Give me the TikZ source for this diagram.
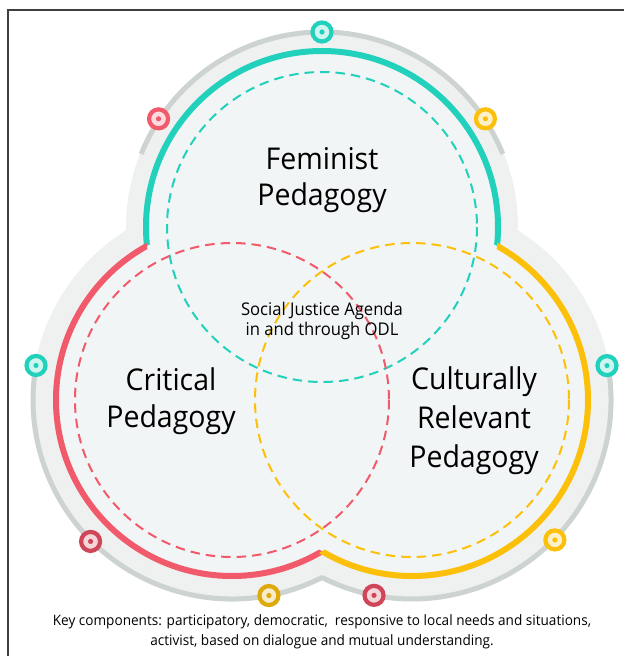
\documentclass[tikz,border=0pt]{standalone}
\usepackage{fontspec}
\setmainfont{Open Sans}[FakeStretch=0.95]
\definecolor{femteal}{HTML}{22D1BC}
\definecolor{critred}{HTML}{F05A6A}
\definecolor{cultyellow}{HTML}{FCC00A}
\definecolor{darkred}{HTML}{CF4658}
\definecolor{darkyellow}{HTML}{DDA90C}
\definecolor{ringgrey}{HTML}{CDD3D1}
\definecolor{halogrey}{HTML}{EFF0F0}
\definecolor{innerfill}{HTML}{F2F5F5}
\definecolor{framegrey}{HTML}{3F3F3F}
\tikzset{
  marker/.style={circle, draw=#1, line width=4.2pt, fill=#1!22!white,
    minimum size=19pt, inner sep=0pt,
    path picture={\fill[#1] (path picture bounding box.center) circle (2.6pt);}},
  ring/.style={line width=6pt},
  guide/.style={line width=2pt, dash pattern=on 9.5pt off 6pt},
  biglabel/.style={align=center, font=\fontsize{30}{37}\selectfont},
}
\begin{document}
\begin{tikzpicture}[x=1pt, y=-1pt]
      \useasboundingbox (0,0) rectangle (624,656);
      \draw[framegrey, line width=1.4pt] (8,656) -- (8,10) -- (624,10);
      \coordinate (fem) at (322,227);
      \coordinate (crit) at (232,400);
      \coordinate (cult) at (412,400);
      % halo and grey outline
      \fill[halogrey] (fem) circle (196) (crit) circle (200) (cult) circle (200);
      \draw[ringgrey, line width=5pt]
        ([shift={(-158:195)}]fem) arc[start angle=-158, end angle=-22, radius=195];
      \draw[ringgrey, line width=5pt]
        ([shift={(-297:199)}]crit) arc[start angle=-297, end angle=-167, radius=199];
      \draw[ringgrey, line width=5pt]
        ([shift={(-373:199)}]cult) arc[start angle=-373, end angle=-243, radius=199];
      \fill[innerfill] (fem) circle (176) (crit) circle (176) (cult) circle (176);
      % outer rings
      \begin{scope}[even odd rule]
        \clip (-10,-10) rectangle (640,670) (crit) circle (176);
        \clip (-10,-10) rectangle (640,670) (cult) circle (176);
        \draw[femteal, ring] (fem) circle (176);
      \end{scope}
      \begin{scope}[even odd rule]
        \clip (-10,-10) rectangle (640,670) (fem) circle (176);
        \clip (-10,-10) rectangle (640,670) (cult) circle (176);
        \draw[critred, ring] (crit) circle (176);
      \end{scope}
      \begin{scope}[even odd rule]
        \clip (-10,-10) rectangle (640,670) (fem) circle (176);
        \clip (-10,-10) rectangle (640,670) (crit) circle (176);
        \draw[cultyellow, ring] (cult) circle (176);
      \end{scope}
      % dashed circles
      \draw[femteal, guide] (fem) circle (155);
      \draw[critred, guide] (crit) circle (157);
      \draw[cultyellow, guide] (cult) circle (157);
      % markers
      \node[marker=femteal] (femtop) at ([shift={(-90:195)}]fem) {};
      \node[marker=critred] (femleft) at ([shift={(-146.5:196)}]fem) {};
      \node[marker=cultyellow] (femright) at ([shift={(-33.5:196)}]fem) {};
      \node[marker=femteal] (critleft) at ([shift={(-170:199)}]crit) {};
      \node[marker=darkred] (critlow) at ([shift={(-225:200)}]crit) {};
      \node[marker=darkyellow] (critbottom) at ([shift={(-280.7:199)}]crit) {};
      \node[marker=darkred] (cultbottom) at ([shift={(-259:199)}]cult) {};
      \node[marker=cultyellow] (cultlow) at ([shift={(-315.6:200)}]cult) {};
      \node[marker=femteal] (cultright) at ([shift={(-10:198)}]cult) {};
      % labels
      \node[biglabel, font=\fontsize{30}{36}\selectfont] (femtext) at (322,180)
        {Feminist\\Pedagogy};
      \node[biglabel] (crittext) at (171,401) {Critical\\Pedagogy};
      \node[biglabel, font=\fontsize{30}{39}\selectfont] (culttext) at (474,421)
        {Culturally\\Relevant\\Pedagogy};
      \node[align=center, font=\fontsize{17.5}{19.5}\selectfont] (agenda) at (322,321)
        {Social Justice Agenda\\in and through ODL};
      \node[align=center, font=\fontsize{14.3}{20}\selectfont] (keys) at (322,632)
        {Key components: participatory, democratic,\ \ responsive to local needs and situations,\\
         activist, based on dialogue and mutual understanding.};
    \end{tikzpicture}
\end{document}
